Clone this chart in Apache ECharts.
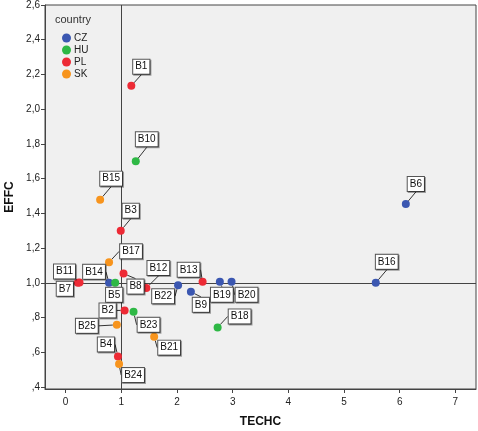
<!DOCTYPE html>
<html>
<head>
<meta charset="utf-8">
<script src="https://cdn.jsdelivr.net/npm/echarts@6/dist/echarts.min.js"></script>
<style>html,body{margin:0;padding:0;background:#fff;}#c{width:478px;height:431px;}</style>
</head>
<body>
<div id="c"></div>
<script>
// ---- data ----
var countries = ['CZ', 'HU', 'PL', 'SK'];
var names   = ['B1','B2','B3','B4','B5','B6','B7','B8','B9','B10','B11','B12','B13','B14','B15','B16','B17','B18','B19','B20','B21','B22','B23','B24','B25'];
var techc   = [1.18,1.06,0.99,0.94,0.89,6.11,0.22,1.04,2.25,1.26,0.25,1.45,2.46,0.78,0.62,5.57,0.78,2.73,2.77,2.98,1.59,2.02,1.22,0.96,0.92];
var effc    = [2.135,0.841,1.30,0.576,1.00,1.454,1.00,1.053,0.948,1.70,1.002,0.97,1.006,1.00,1.479,1.00,1.118,0.743,1.006,1.006,0.69,0.986,0.833,0.532,0.758];
var country = ['PL','PL','PL','PL','HU','CZ','PL','PL','CZ','HU','PL','PL','PL','CZ','SK','CZ','SK','HU','CZ','CZ','SK','CZ','HU','SK','SK'];
var xTicks = [0,1,2,3,4,5,6,7];
var yTicks = [0.4,0.6,0.8,1.0,1.2,1.4,1.6,1.8,2.0,2.2,2.4,2.6];

// ---- styles ----
var colors = {CZ:'#3b57b1', HU:'#2eb845', PL:'#ed2a35', SK:'#f7941d'};
var labelOffsets = {
  B1:[10,-19], B2:[-17,0], B3:[10,-20], B4:[-12,-12], B5:[-1,12], B6:[10,-20],
  B7:[-13,6], B8:[12,13], B9:[10,13], B10:[11,-22], B11:[-15,-11], B12:[12,-20],
  B13:[-14,-12], B14:[-15,-11], B15:[11,-21], B16:[11,-21], B17:[22,-11], B18:[22,-11],
  B19:[2,13], B20:[15,13], B21:[15,11], B22:[-15,11], B23:[15,13], B24:[14,11], B25:[-30,1]
};
var noGuide = {B7: true, B11: true};
var FONT = 'Liberation Sans, Arial, sans-serif';

var series = countries.map(function (c, si) {
  var d = [];
  for (var i = 0; i < names.length; i++) {
    if (country[i] === c) {
      var item = {name: names[i], value: [techc[i], effc[i]]};
      if (noGuide[names[i]]) item.labelLine = {show: false};
      d.push(item);
    }
  }
  var s = {
    name: c,
    type: 'scatter',
    data: d,
    symbolSize: 8,
    z: 5,
    itemStyle: {color: colors[c], opacity: 1},
    label: {
      show: true, position: 'inside', formatter: '{b}',
      fontSize: 10, fontFamily: FONT, color: '#111',
      backgroundColor: '#fff', borderColor: '#555', borderWidth: 1,
      padding: [2, 2, 1, 2], lineHeight: 11,
      shadowColor: 'rgba(0,0,0,0.35)', shadowOffsetX: 1, shadowOffsetY: 1, shadowBlur: 0
    },
    labelLine: {show: true, lineStyle: {color: '#333', width: 1}},
    labelLayout: function (p) {
      var o = labelOffsets[p.text] || [0, 0];
      return {dx: o[0], dy: o[1]};
    }
  };
  if (si === 0) {
    s.markLine = {
      silent: true, symbol: ['none', 'none'], animation: false,
      label: {show: false},
      lineStyle: {color: '#444', type: 'solid', width: 1},
      data: [{xAxis: 1}, {yAxis: 1}]
    };
  }
  return s;
});

var chart = echarts.init(document.getElementById('c'), null, {renderer: 'canvas'});
chart.setOption({
  animation: false,
  color: countries.map(function (c) { return colors[c]; }),
  textStyle: {fontFamily: FONT},
  grid: {left: 45, right: 2, top: 5, bottom: 42, containLabel: false, outerBoundsMode: 'none',
         show: true, backgroundColor: '#f0f0f0', borderColor: '#444', borderWidth: 1},
  legend: {
    orient: 'vertical', left: 57, top: 28, icon: 'circle',
    itemWidth: 9, itemHeight: 9, itemGap: 2,
    textStyle: {fontSize: 10, color: '#222', padding: [0, 0, 0, -2]},
    data: countries
  },
  graphic: [{type: 'text', left: 55, top: 14, style: {text: 'country', fontSize: 11, fill: '#333', fontFamily: FONT}}],
  xAxis: {
    type: 'value', min: -0.37, max: 7.37,
    name: 'TECHC', nameLocation: 'middle', nameGap: 27,
    nameTextStyle: {fontSize: 12, fontWeight: 'bold', color: '#111'},
    axisLine: {show: true, onZero: false, lineStyle: {color: '#444'}},
    axisTick: {show: true, length: 4, lineStyle: {color: '#444'}, customValues: xTicks},
    axisLabel: {fontSize: 10, color: '#222', margin: 8, customValues: xTicks, formatter: function (v) { return String(v); }},
    splitLine: {show: false}
  },
  yAxis: {
    type: 'value', min: 0.3885, max: 2.6,
    name: 'EFFC', nameLocation: 'middle', nameGap: 29, nameRotate: 90,
    nameTextStyle: {fontSize: 12, fontWeight: 'bold', color: '#111'},
    axisLine: {show: true, onZero: false, lineStyle: {color: '#444'}},
    axisTick: {show: true, length: 4, lineStyle: {color: '#444'}, customValues: yTicks},
    axisLabel: {fontSize: 10, color: '#222', margin: 5, customValues: yTicks,
      formatter: function (v) { return v.toFixed(1).replace('.', ',').replace(/^0/, ''); }},
    splitLine: {show: false}
  },
  series: series
});
</script>
</body>
</html>
